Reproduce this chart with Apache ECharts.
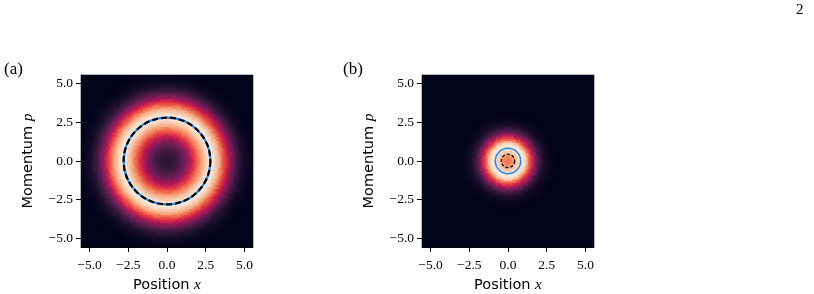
<!DOCTYPE html>
<html>
<head>
<meta charset="utf-8">
<script src="https://cdn.jsdelivr.net/npm/echarts@6/dist/echarts.min.js"></script>
<style>
  html, body { margin: 0; padding: 0; background: #fff; }
  #chart { width: 814px; height: 294px; }
</style>
</head>
<body>
<div id="chart"></div>
<script>
// radial profiles (normalised intensity, step 0.1 in r)
var step = 0.1;
var profileA = [0.12, 0.12, 0.125, 0.13, 0.14, 0.15, 0.165, 0.18, 0.20, 0.225,
                0.25, 0.28, 0.31, 0.35, 0.39, 0.44, 0.49, 0.54, 0.59, 0.64,
                0.69, 0.74, 0.79, 0.84, 0.88, 0.92, 0.95, 0.98, 1.0, 1.0,
                0.98, 0.95, 0.91, 0.87, 0.82, 0.76, 0.70, 0.63, 0.57, 0.50,
                0.44, 0.38, 0.32, 0.27, 0.22, 0.18, 0.15, 0.12, 0.09, 0.07,
                0.055, 0.04, 0.03, 0.022, 0.016, 0.011, 0.007, 0.004, 0.002, 0];
var profileB = [0.72, 0.725, 0.74, 0.77, 0.81, 0.86, 0.91, 0.95, 0.98, 1.0,
                0.99, 0.95, 0.88, 0.79, 0.69, 0.59, 0.50, 0.41, 0.33, 0.26,
                0.20, 0.15, 0.11, 0.08, 0.06, 0.045, 0.032, 0.022, 0.015, 0.01,
                0.006, 0.003, 0];
// circle radii
var circlesA = [{ r: 2.8, color: '#1f8ef1', dash: null, width: 2.2 },
                { r: 2.8, color: '#000000', dash: [6, 3], width: 2.2 }];
var circlesB = [{ r: 0.82, color: '#1f8ef1', dash: null, width: 1.6 },
                { r: 0.43, color: '#000000', dash: [3, 2], width: 1.3 }];
var tickVals = [-5, -2.5, 0, 2.5, 5];
var rocket = ['#03051A', '#35193E', '#701F57', '#AD1759', '#E13342', '#F37651', '#F6B48F', '#FAEBDD'];

var extent = 5.55;
var nCells = 86; // 2px cells on a 172px plot
var cellStep = 2 * extent / nCells;
var cats = [];
for (var i = 0; i < nCells; i++) cats.push(i);

function buildGrid(profile) {
    var out = [];
    for (var i = 0; i < nCells; i++) {
        var x = -extent + cellStep * (i + 0.5);
        for (var j = 0; j < nCells; j++) {
            var y = -extent + cellStep * (j + 0.5);
            var k = Math.round(Math.sqrt(x * x + y * y) / step);
            var v = k < profile.length ? profile[k] : profile[profile.length - 1];
            out.push([i, j, v]);
        }
    }
    return out;
}

var serif = 'Liberation Serif';
var sans = 'DejaVu Sans';
var grids = [
    { left: 81, top: 75, width: 172, height: 172, show: true, backgroundColor: '#03051A', borderWidth: 0, outerBoundsMode: 'none' },
    { left: 422, top: 75, width: 172, height: 172, show: true, backgroundColor: '#03051A', borderWidth: 0, outerBoundsMode: 'none' }
];

function fmt(v) { return v.toFixed(1).replace('-', '\u2212'); }

var xAxes = [], yAxes = [], series = [], visualMaps = [];
[profileA, profileB].forEach(function (prof, g) {
    // hidden category axes for the heatmap cells
    xAxes.push({ type: 'category', gridIndex: g, data: cats, show: false, position: 'top' });
    yAxes.push({ type: 'category', gridIndex: g, data: cats, show: false, position: 'right' });
    // value axes carrying ticks, labels and the circles
    xAxes.push({
        type: 'value', gridIndex: g, min: -extent, max: extent, position: 'bottom',
        axisLine: { show: true, onZero: false, lineStyle: { color: '#000', width: 1 } },
        axisTick: { show: true, length: 5, customValues: tickVals, lineStyle: { color: '#000', width: 1 } },
        axisLabel: { show: true, margin: 11, color: '#000', fontFamily: serif, fontSize: 13.5,
                     customValues: tickVals, formatter: fmt },
        splitLine: { show: false },
        name: 'Position {i|x}', nameLocation: 'middle', nameGap: 23,
        nameTextStyle: { color: '#000', fontFamily: sans, fontSize: 14.5,
                         rich: { i: { fontFamily: serif, fontStyle: 'italic', fontSize: 15.5, color: '#000' } } }
    });
    yAxes.push({
        type: 'value', gridIndex: g, min: -extent, max: extent, position: 'left',
        axisLine: { show: true, onZero: false, lineStyle: { color: '#000', width: 1 } },
        axisTick: { show: true, length: 5, customValues: tickVals, lineStyle: { color: '#000', width: 1 } },
        axisLabel: { show: true, margin: 8, color: '#000', fontFamily: serif, fontSize: 13.5,
                     customValues: tickVals, formatter: fmt },
        splitLine: { show: false },
        name: 'Momentum {i|p}', nameLocation: 'middle', nameGap: 45, nameRotate: 90,
        nameTextStyle: { color: '#000', fontFamily: sans, fontSize: 14.5,
                         rich: { i: { fontFamily: serif, fontStyle: 'italic', fontSize: 15.5, color: '#000' } } }
    });

    series.push({
        type: 'heatmap', xAxisIndex: 2 * g, yAxisIndex: 2 * g,
        data: buildGrid(prof), progressive: 0, silent: true,
        emphasis: { disabled: true }
    });
    visualMaps.push({
        type: 'continuous', show: false, min: 0, max: 1, seriesIndex: series.length - 1,
        inRange: { color: rocket }
    });
});

[circlesA, circlesB].forEach(function (list, g) {
    list.forEach(function (c) {
        series.push({
            type: 'custom', xAxisIndex: 2 * g + 1, yAxisIndex: 2 * g + 1, silent: true,
            data: [[0, 0, c.r]],
            renderItem: function (params, api) {
                var p = api.coord([api.value(0), api.value(1)]);
                var rad = api.size([api.value(2), api.value(2)])[0];
                return {
                    type: 'circle',
                    shape: { cx: p[0], cy: p[1], r: rad },
                    style: { fill: 'none', stroke: c.color, lineWidth: c.width, lineDash: c.dash }
                };
            }
        });
    });
});

var chart = echarts.init(document.getElementById('chart'), null, { renderer: 'canvas' });
chart.setOption({
    backgroundColor: '#fff',
    animation: false,
    grid: grids,
    xAxis: xAxes,
    yAxis: yAxes,
    visualMap: visualMaps,
    series: series,
    graphic: [
        { type: 'text', left: 4, top: 61, style: { text: '(a)', fontFamily: serif, fontSize: 17, fill: '#000' } },
        { type: 'text', left: 343, top: 61, style: { text: '(b)', fontFamily: serif, fontSize: 17, fill: '#000' } },
        { type: 'text', left: 796, top: 3, style: { text: '2', fontFamily: serif, fontSize: 15, fill: '#000' } }
    ]
});
</script>
</body>
</html>
